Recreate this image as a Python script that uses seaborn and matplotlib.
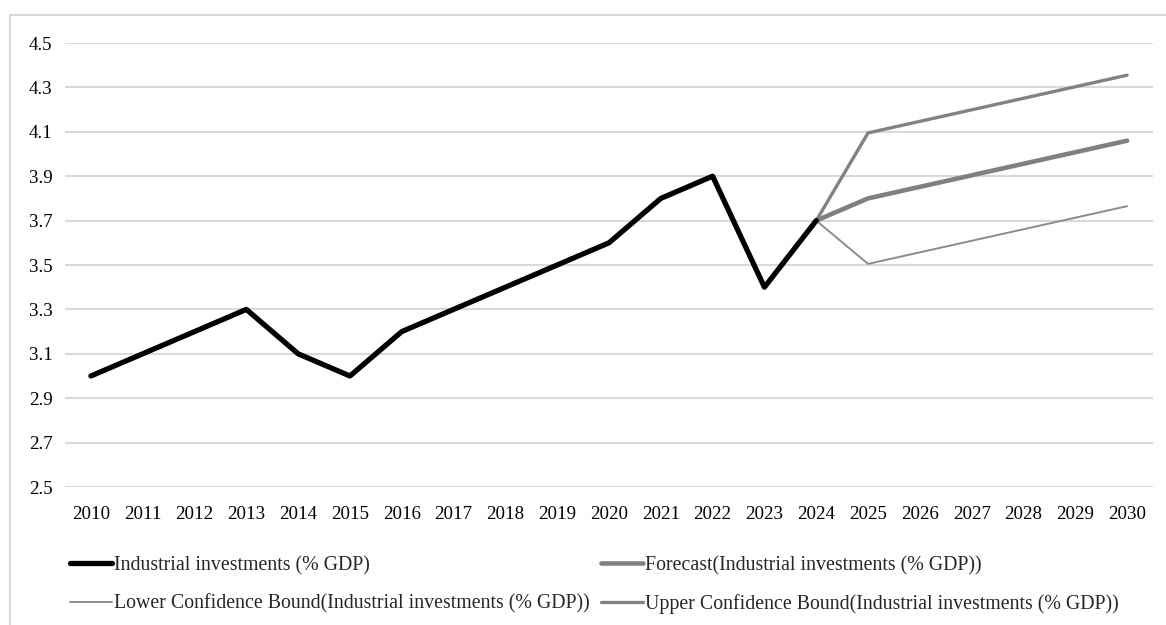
import numpy as np
import pandas as pd
import matplotlib as mpl
mpl.use('Agg')
import matplotlib.pyplot as plt
import seaborn as sns
from matplotlib.patches import Rectangle

years_hist = [2010, 2011, 2012, 2013, 2014, 2015, 2016, 2017, 2018, 2019, 2020, 2021, 2022, 2023, 2024]
invest = [3.0, 3.1, 3.2, 3.3, 3.1, 3.0, 3.2, 3.3, 3.4, 3.5, 3.6, 3.8, 3.9, 3.4, 3.7]

years_fc = [2024, 2025, 2026, 2027, 2028, 2029, 2030]
forecast = [3.70, 3.80, 3.852, 3.904, 3.956, 4.008, 4.06]
lower = [3.70, 3.505, 3.557, 3.609, 3.661, 3.713, 3.765]
upper = [3.70, 4.095, 4.147, 4.199, 4.251, 4.303, 4.355]

lab_hist = 'Industrial investments (% GDP)'
lab_fc = 'Forecast(Industrial investments (% GDP))'
lab_lo = 'Lower Confidence Bound(Industrial investments (% GDP))'
lab_up = 'Upper Confidence Bound(Industrial investments (% GDP))'

sns.set_style('white')
plt.rcParams['font.family'] = ['Liberation Serif', 'DejaVu Serif']

fig = plt.figure(figsize=(11.66, 6.25), dpi=100)
ax = fig.add_axes([65 / 1166, 1 - 487 / 625, 1088 / 1166, 444 / 625])

df_h = pd.DataFrame({'year': years_hist, 'value': invest})
df_f = pd.DataFrame({'year': years_fc, 'forecast': forecast, 'lower': lower, 'upper': upper})

sns.lineplot(data=df_f, x='year', y='upper', ax=ax, color='#828282', linewidth=2.4, label=lab_up)
sns.lineplot(data=df_f, x='year', y='lower', ax=ax, color='#8c8c8c', linewidth=1.4, label=lab_lo)
sns.lineplot(data=df_f, x='year', y='forecast', ax=ax, color='#808080', linewidth=3.3, label=lab_fc)
sns.lineplot(data=df_h, x='year', y='value', ax=ax, color='black', linewidth=3.8, label=lab_hist)

ax.set_xlim(2009.5, 2030.5)
ax.set_ylim(2.5, 4.5)
ax.set_yticks(np.arange(2.5, 4.51, 0.2))
ax.set_yticklabels([f'{v:.1f}' for v in np.arange(2.5, 4.51, 0.2)])
ax.set_xticks(list(range(2010, 2031)))
ax.set_xticklabels([str(y) for y in range(2010, 2031)])
ax.tick_params(axis='both', labelsize=13.6, length=0, colors='black')
ax.tick_params(axis='x', pad=14)
ax.tick_params(axis='y', pad=9)
ax.grid(axis='y', color='#d9d9d9', linewidth=1.5)
ax.set_axisbelow(True)
for s in ax.spines.values():
    s.set_visible(False)
ax.set_xlabel('')
ax.set_ylabel('')

handles, labels = ax.get_legend_handles_labels()
hmap = dict(zip(labels, handles))
order = [lab_hist, lab_lo, lab_fc, lab_up]
ax.get_legend().remove()
fig.legend([hmap[l] for l in order], order, ncol=2, loc='upper left',
           bbox_to_anchor=(62 / 1166, 1 - 548 / 625), frameon=False,
           fontsize=14.3, handlelength=2.1, handletextpad=0.1,
           columnspacing=0.6, labelspacing=0.97, borderaxespad=0)

fig.patches.append(Rectangle((10 / 1166, -0.1), 1.2, 1 - 15 / 625 + 0.1, transform=fig.transFigure,
                             fill=False, edgecolor='#d9d9d9', linewidth=1.5))

fig.savefig('out.png', dpi=100)
